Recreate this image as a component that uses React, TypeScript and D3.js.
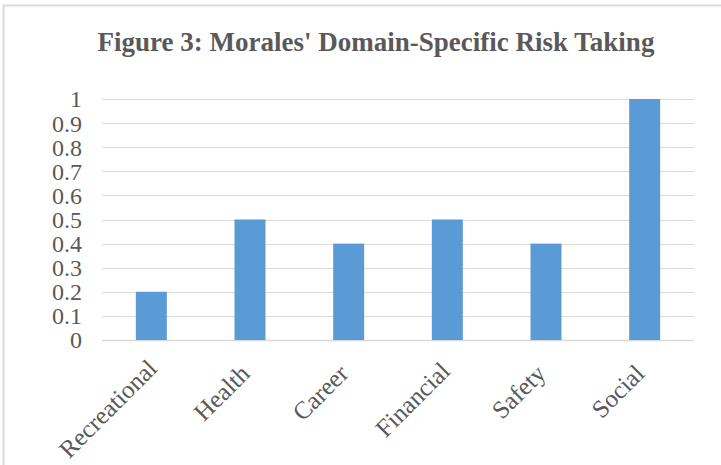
import React from "react";
import * as d3 from "d3";

const categories = ["Recreational", "Health", "Career", "Financial", "Safety", "Social"];
const values = [0.2, 0.5, 0.4, 0.5, 0.4, 1.0];
const yTicks = [0, 0.1, 0.2, 0.3, 0.4, 0.5, 0.6, 0.7, 0.8, 0.9, 1];
const title = "Figure 3: Morales' Domain-Specific Risk Taking";

export default function App() {
  const W = 721, H = 465;
  const left = 102, right = 694, top = 99, bottom = 340;
  const x = d3.scaleBand<string>().domain(categories).range([left, right]).padding(0);
  const y = d3.scaleLinear().domain([0, 1]).range([bottom, top]);
  const barW = x.bandwidth() * 0.314;
  const font = "'Liberation Serif', 'Times New Roman', serif";
  const textColor = "#595959";
  const grid = "#d9d9d9";
  return (
    <svg width={W} height={H} style={{ position: "absolute", left: 0, top: 0, background: "#fff" }}>
      <rect x={3.5} y={5.5} width={W + 10} height={H + 10} fill="#fff" stroke={grid} strokeWidth={2} />
      <text x={376} y={51} textAnchor="middle" fontFamily={font} fontWeight="bold" fontSize={27} fill={textColor}>
        {title}
      </text>
      {yTicks.map((t) => (
        <g key={t}>
          <line x1={left} x2={right} y1={Math.round(y(t)) + 0.5} y2={Math.round(y(t)) + 0.5} stroke={grid} strokeWidth={t === 0 ? 1.5 : 1} />
          <text x={82} y={y(t)} dy="0.35em" textAnchor="end" fontFamily={font} fontSize={24} fill={textColor}>
            {d3.format("")(t)}
          </text>
        </g>
      ))}
      {categories.map((c, i) => {
        const cx = (x(c) as number) + x.bandwidth() / 2;
        const shift = c.length - 6;
        return (
          <g key={c}>
            <rect x={cx - barW / 2} y={y(values[i])} width={barW} height={y(0) - y(values[i])} fill="#5b9bd5" />
            <text
              transform={`translate(${cx - 5 + shift * 1.0},${bottom + 29 - shift * 0.85}) rotate(-45)`}
              textAnchor="end"
              dy="0.35em"
              fontFamily={font}
              fontSize={25}
              fill={textColor}
            >
              {c}
            </text>
          </g>
        );
      })}
    </svg>
  );
}
